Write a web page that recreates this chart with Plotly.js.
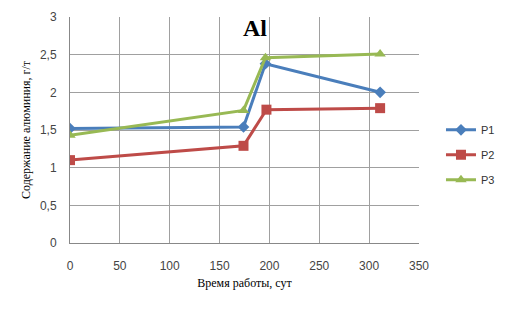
<!DOCTYPE html>
<html><head><meta charset="utf-8">
<script src="https://cdn.plot.ly/plotly-3.0.1.min.js"></script>
<style>html,body{margin:0;padding:0;background:#fff}#chart{width:512px;height:309px}</style>
</head><body><div id="chart"></div>
<script>
const seriesNames = ["P1", "P2", "P3"];
const xP1 = [0, 174, 196, 311];
const yP1 = [1.52, 1.54, 2.38, 2.0];
const xP2 = [0, 174, 197, 311];
const yP2 = [1.1, 1.29, 1.77, 1.79];
const xP3 = [0, 174, 196, 311];
const yP3 = [1.43, 1.76, 2.46, 2.51];
const xTicks = [0, 50, 100, 150, 200, 250, 300, 350];
const yTicks = [0, 0.5, 1, 1.5, 2, 2.5, 3];

const colors = ["#4a7ebb", "#be4b48", "#98b954"];
const symbols = ["diamond", "square", "triangle-up"];
const sizes = [9, 10, 10];
const xs = [xP1, xP2, xP3];
const ys = [yP1, yP2, yP3];

const data = seriesNames.map((n, i) => ({
  type: "scatter", mode: "lines+markers", name: n, legendgroup: "g" + i,
  x: xs[i], y: ys[i],
  line: {color: colors[i], width: 3},
  marker: {color: colors[i], symbol: symbols[i], size: sizes[i]}
}));

const layout = {
  width: 512, height: 309,
  margin: {l: 70, r: 93, t: 17, b: 66},
  paper_bgcolor: "#fff", plot_bgcolor: "#fff",
  separators: ", ",
  showlegend: true,
  title: {text: "<b>Al</b>", font: {family: "Liberation Serif", size: 24, color: "#000"},
    x: 0.53, xref: "paper", xanchor: "center", y: 0.91, yref: "container", yanchor: "middle"},
  xaxis: {
    range: [0, 350], tickvals: xTicks, ticktext: xTicks.map(String),
    showgrid: true, gridcolor: "#a0a0a0", gridwidth: 1,
    showline: true, linecolor: "#888", linewidth: 1, mirror: false,
    zeroline: false, ticks: "", ticklen: 0, ticklabelstandoff: 12,
    tickfont: {family: "Liberation Sans", size: 12, color: "#444"},
    title: {text: "Время работы, сут", font: {family: "Liberation Serif", size: 12, color: "#000"}, standoff: 6}
  },
  yaxis: {
    range: [0, 3], tickvals: yTicks, ticktext: yTicks.map(v => String(v).replace(".", ",")),
    showgrid: true, gridcolor: "#a0a0a0", gridwidth: 1,
    showline: true, linecolor: "#888", linewidth: 1,
    zeroline: false, ticks: "", ticklabelstandoff: 10,
    tickfont: {family: "Liberation Sans", size: 12, color: "#444"},
    title: {text: "Содержание алюминия, г/т", font: {family: "Liberation Serif", size: 12, color: "#000"}, standoff: 6}
  },
  legend: {x: 1.063, xanchor: "left", y: 0.39, yanchor: "middle",
    font: {family: "Liberation Sans", size: 11, color: "#333"},
    tracegroupgap: 6, itemwidth: 30, bgcolor: "rgba(0,0,0,0)"}
};
Plotly.newPlot("chart", data, layout, {staticPlot: true, displayModeBar: false});
</script></body></html>
